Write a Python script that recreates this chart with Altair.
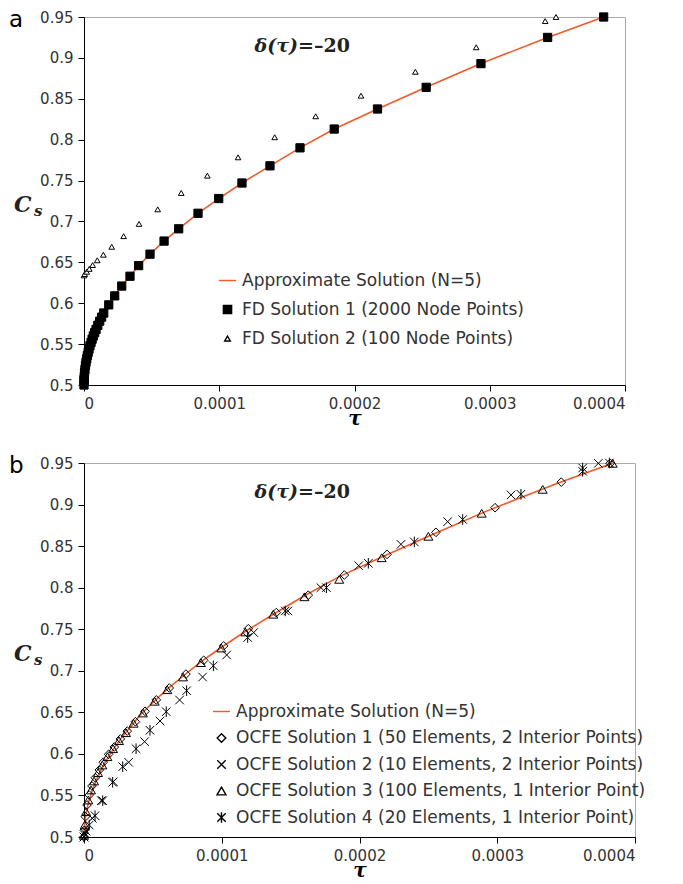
import altair as alt
import pandas as pd

ORANGE = "#f05a28"
LINE = "Approximate Solution (N=5)"
FD1 = "FD Solution 1 (2000 Node Points)"
FD2 = "FD Solution 2 (100 Node Points)"
O1 = "OCFE Solution 1 (50 Elements, 2 Interior Points)"
O2 = "OCFE Solution 2 (10 Elements, 2 Interior Points)"
O3 = "OCFE Solution 3 (100 Elements, 1 Interior Point)"
O4 = "OCFE Solution 4 (20 Elements, 1 Interior Point)"

# Approximate solution (N=5)
tau_approx = [0, 0.0000002, 0.0000007, 0.0000015, 0.0000025, 0.0000037, 0.0000052, 0.0000069,
              0.0000089, 0.0000116, 0.0000146, 0.0000183, 0.0000227, 0.0000279, 0.000034, 0.0000404,
              0.0000488, 0.0000592, 0.00007, 0.0000843, 0.0000996, 0.0001168, 0.0001375, 0.0001597,
              0.000185, 0.000217, 0.000253, 0.0002935, 0.0003428, 0.0003842]
cs_approx = [0.5, 0.51, 0.519, 0.528, 0.536, 0.544, 0.552, 0.56,
             0.568, 0.578, 0.588, 0.598, 0.609, 0.621, 0.633, 0.646,
             0.660, 0.676, 0.691, 0.710, 0.728, 0.747, 0.768, 0.790,
             0.813, 0.8375, 0.864, 0.893, 0.925, 0.950]

# FD Solution 1 (2000 node points)
tau_fd1 = [0, 0, 0.0000001, 0.0000002, 0.0000004, 0.0000007, 0.0000011, 0.0000015, 0.000002,
           0.0000025, 0.0000031, 0.0000037, 0.0000044, 0.0000052, 0.000006, 0.0000069, 0.0000079,
           0.0000089, 0.0000102, 0.0000116, 0.000013, 0.0000146, 0.0000183, 0.0000227, 0.0000279,
           0.000034, 0.0000404, 0.0000488, 0.0000592, 0.00007, 0.0000843, 0.0000996, 0.0001168,
           0.0001375, 0.0001597, 0.000185, 0.000217, 0.000253, 0.0002935, 0.0003428, 0.0003842]
cs_fd1 = [0.5, 0.505, 0.507, 0.51, 0.515, 0.519, 0.524, 0.528, 0.532,
          0.536, 0.540, 0.544, 0.548, 0.552, 0.556, 0.56, 0.564,
          0.568, 0.573, 0.578, 0.583, 0.588, 0.598, 0.609, 0.621,
          0.633, 0.646, 0.660, 0.676, 0.691, 0.710, 0.728, 0.747,
          0.768, 0.790, 0.813, 0.8375, 0.864, 0.893, 0.925, 0.950]

# FD Solution 2 (100 node points)
tau_fd2 = [0, 0.0000005, 0.000002, 0.0000039, 0.0000064, 0.0000098, 0.0000143, 0.0000205,
           0.0000293, 0.0000407, 0.0000545, 0.0000719, 0.0000912, 0.0001139, 0.000141, 0.0001713,
           0.0002048, 0.000245, 0.00029, 0.000341, 0.000349]
cs_fd2 = [0.634, 0.6357, 0.6385, 0.642, 0.6467, 0.6525, 0.6593, 0.669,
          0.682, 0.697, 0.7148, 0.7348, 0.756, 0.7784, 0.803, 0.8286,
          0.8538, 0.883, 0.913, 0.945, 0.950]

# OCFE Solution 1
tau_o1 = [0, 0.0000002, 0.000001, 0.0000022, 0.0000038, 0.0000058, 0.0000082, 0.0000111, 0.000014,
          0.0000179, 0.000022, 0.0000264, 0.0000314, 0.0000373, 0.0000443, 0.0000525, 0.0000619,
          0.000074, 0.0000869, 0.0001014, 0.0001193, 0.0001396, 0.0001628, 0.000189, 0.00022,
          0.0002555, 0.0002984, 0.0003465, 0.000382]
cs_o1 = [0.5, 0.508, 0.5244, 0.5385, 0.5505, 0.5614, 0.5713, 0.5806, 0.590,
         0.5995, 0.6083, 0.618, 0.6275, 0.6387, 0.6512, 0.665, 0.6793,
         0.696, 0.7126, 0.730, 0.7506, 0.770, 0.791, 0.8152, 0.840,
         0.8666, 0.8962, 0.927, 0.9496]

# OCFE Solution 2
tau_o2 = [0, 0.0000005, 0.000006, 0.0000126, 0.0000213, 0.0000324, 0.000044, 0.0000552, 0.0000694,
          0.0000861, 0.0001036, 0.0001232, 0.000148, 0.000172, 0.0001994, 0.0002301, 0.000264,
          0.00031, 0.0003734]
cs_o2 = [0.5, 0.5045, 0.5225, 0.5437, 0.5665, 0.5899, 0.6147, 0.6396, 0.6648,
         0.6925, 0.719, 0.746, 0.772, 0.800, 0.8264, 0.8521, 0.8794,
         0.9116, 0.9496]

# OCFE Solution 3
tau_o3 = [0, 0.0000005, 0.0000015, 0.0000031, 0.0000051, 0.0000073, 0.0000102, 0.0000133, 0.000017,
          0.0000211, 0.0000254, 0.0000305, 0.000036, 0.0000428, 0.0000513, 0.0000605, 0.0000719,
          0.0000849, 0.0000997, 0.0001171, 0.0001374, 0.00016, 0.0001853, 0.0002161, 0.00025,
          0.0002887, 0.000333, 0.0003838]
cs_o3 = [0.502, 0.5144, 0.5304, 0.5445, 0.5566, 0.5674, 0.5774, 0.5866, 0.5966,
         0.6062, 0.6159, 0.6255, 0.6368, 0.6492, 0.6633, 0.6772, 0.6925,
         0.7098, 0.7274, 0.7467, 0.768, 0.789, 0.810, 0.836, 0.8618,
         0.8895, 0.9183, 0.9496]

# OCFE Solution 4
tau_o4 = [0, 0.0000015, 0.0000038, 0.000008, 0.0000136, 0.0000208, 0.0000281, 0.0000378, 0.0000479,
          0.0000597, 0.0000745, 0.0000939, 0.0001188, 0.0001461, 0.000176, 0.0002064, 0.0002398,
          0.0002749, 0.0003172, 0.000362, 0.000362, 0.0003814]
cs_o4 = [0.5, 0.507, 0.5144, 0.5256, 0.5437, 0.5658, 0.5846, 0.6062, 0.6284,
         0.6508, 0.676, 0.706, 0.74, 0.772, 0.800, 0.8293, 0.855,
         0.882, 0.9124, 0.944, 0.940, 0.950]

x_ticks = [0, 0.0001, 0.0002, 0.0003, 0.0004]
y_ticks = [0.5, 0.55, 0.6, 0.65, 0.7, 0.75, 0.8, 0.85, 0.9, 0.95]

XSHAPE = "M-1,-1L1,1M-1,1L1,-1"
ASTER = "M-1,-1L1,1M-1,1L1,-1M0,-1.25L0,1.25"


def frame(series_list):
    rows = []
    for name, xs, ys in series_list:
        for a, b in zip(xs, ys):
            rows.append({"tau": a, "cs": b, "series": name})
    return pd.DataFrame(rows)


def panel(letter, pts, domain, shapes, fills, strokes, sizes, w, h, lx, ly, rowpad):
    xenc = alt.X("tau:Q", scale=alt.Scale(domain=[0, 0.0004], nice=False, zero=False),
                 axis=alt.Axis(values=x_ticks, format=".4~f", grid=False,
                               labelFont="DejaVu Sans", labelFontSize=15, labelColor="#333",
                               domainColor="black", tickColor="black", tickSize=6,
                               labelPadding=5, title="τ", titleFont="DejaVu Serif",
                               titleFontStyle="italic", titleFontWeight="bold",
                               titleFontSize=20, titleColor="black", titlePadding=-3))
    yenc = alt.Y("cs:Q", scale=alt.Scale(domain=[0.5, 0.95], nice=False, zero=False),
                 axis=alt.Axis(values=y_ticks, format=".2~f", grid=False, title=None,
                               labelFont="DejaVu Sans", labelFontSize=15, labelColor="#333",
                               domainColor="black", tickColor="black", tickSize=6,
                               labelPadding=5))
    line_df = pd.DataFrame({"tau": tau_approx, "cs": cs_approx})
    line = alt.Chart(line_df).mark_line(color=ORANGE, strokeWidth=1.6).encode(x=xenc, y=yenc)

    leg = alt.Legend(title=None, orient="none", legendX=lx, legendY=ly, padding=0,
                     labelFont="DejaVu Sans", labelFontSize=17, labelColor="#333",
                     labelOffset=5, rowPadding=rowpad, symbolStrokeWidth=1.4,
                     labelLimit=600)
    points = alt.Chart(pts).mark_point(opacity=1, strokeWidth=1).encode(
        x=xenc, y=yenc,
        shape=alt.Shape("series:N", scale=alt.Scale(domain=domain, range=shapes), legend=leg),
        fill=alt.Fill("series:N", scale=alt.Scale(domain=domain, range=fills), legend=leg),
        stroke=alt.Stroke("series:N", scale=alt.Scale(domain=domain, range=strokes), legend=leg),
        size=alt.Size("series:N", scale=alt.Scale(type="ordinal", domain=domain, range=sizes),
                      legend=leg),
    )

    txt = pd.DataFrame({"k": [0]})
    label = alt.Chart(txt).mark_text(text=letter, font="DejaVu Sans", fontSize=23,
                                     align="left", baseline="middle", color="black").encode(
        x=alt.value(-75), y=alt.value(3))
    c_lbl = alt.Chart(txt).mark_text(text="C", font="DejaVu Serif", fontSize=22,
                                     fontStyle="italic", fontWeight="bold",
                                     align="left", baseline="middle", color="#222").encode(
        x=alt.value(-70), y=alt.value(h / 2 + 4))
    s_lbl = alt.Chart(txt).mark_text(text="s", font="DejaVu Serif", fontSize=15,
                                     fontStyle="italic", fontWeight="bold",
                                     align="left", baseline="middle", color="#222").encode(
        x=alt.value(-50), y=alt.value(h / 2 + 10))
    d1 = alt.Chart(txt).mark_text(text="δ(τ)", font="DejaVu Serif", fontSize=19,
                                  fontStyle="italic", fontWeight="bold",
                                  align="right", baseline="middle", color="#222").encode(
        x=alt.value(214), y=alt.value(29))
    d2 = alt.Chart(txt).mark_text(text="=–20", font="DejaVu Serif", fontSize=19,
                                  fontWeight="bold",
                                  align="left", baseline="middle", color="#222").encode(
        x=alt.value(214), y=alt.value(29))

    return alt.layer(line, points, label, c_lbl, s_lbl, d1, d2).properties(width=w, height=h)


pts_a = frame([(FD1, tau_fd1, cs_fd1), (FD2, tau_fd2, cs_fd2)])
pa = panel("a", pts_a, [LINE, FD1, FD2],
           ["stroke", "square", "triangle-up"],
           ["transparent", "black", "white"],
           [ORANGE, "black", "black"],
           [300, 68, 32], 541, 368, 134, 254, 11)

pts_b = frame([(O1, tau_o1, cs_o1), (O2, tau_o2, cs_o2), (O3, tau_o3, cs_o3), (O4, tau_o4, cs_o4)])
pb = panel("b", pts_b, [LINE, O1, O2, O3, O4],
           ["stroke", "diamond", XSHAPE, "triangle-up", ASTER],
           ["transparent"] * 5,
           [ORANGE, "black", "black", "black", "black"],
           [290, 75, 72, 80, 72], 551, 374, 128, 239, 8.5)

chart = alt.vconcat(pa, pb, spacing=25).resolve_scale(
    shape="independent", fill="independent", stroke="independent", size="independent"
).resolve_legend(shape="independent", fill="independent", stroke="independent",
                 size="independent").configure_view(stroke="#aaaaaa", strokeWidth=1).properties(
    padding={"left": 0, "top": 0, "right": 5, "bottom": 5})

chart.save("out.html", embed_options={"renderer": "svg", "actions": False})
